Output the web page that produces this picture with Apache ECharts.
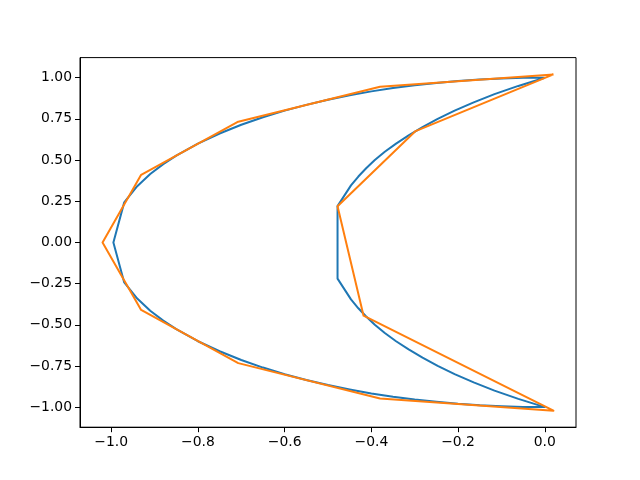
<!DOCTYPE html>
<html>
<head>
<meta charset="utf-8">
<script src="https://cdn.jsdelivr.net/npm/echarts@6/dist/echarts.min.js"></script>
<style>html,body{margin:0;padding:0;background:#fff}#c{width:640px;height:480px}</style>
</head>
<body>
<div id="c"></div>
<script>
// Blue curve (crescent outline): [x, y]
const blueOuterUpper = [
  [0.000, 1.000], [-0.050, 0.999], [-0.100, 0.995], [-0.150, 0.989], [-0.200, 0.980],
  [-0.250, 0.968], [-0.300, 0.954], [-0.350, 0.937], [-0.400, 0.917], [-0.450, 0.893],
  [-0.500, 0.866], [-0.550, 0.835], [-0.600, 0.800], [-0.650, 0.760], [-0.700, 0.714],
  [-0.750, 0.661], [-0.800, 0.600], [-0.850, 0.527], [-0.880, 0.475], [-0.910, 0.415],
  [-0.940, 0.341], [-0.970, 0.243], [-0.995, 0.000]
];
const blueOuterLower = [
  [-0.970, -0.243], [-0.940, -0.341], [-0.910, -0.415], [-0.880, -0.475], [-0.850, -0.527],
  [-0.800, -0.600], [-0.750, -0.661], [-0.700, -0.714], [-0.650, -0.760], [-0.600, -0.800],
  [-0.550, -0.835], [-0.500, -0.866], [-0.450, -0.893], [-0.400, -0.917], [-0.350, -0.937],
  [-0.300, -0.954], [-0.250, -0.968], [-0.200, -0.980], [-0.150, -0.989], [-0.100, -0.995],
  [-0.050, -0.999], [0.000, -1.000]
];
const blueInnerLower = [
  [-0.061, -0.950], [-0.116, -0.900], [-0.164, -0.850], [-0.208, -0.800], [-0.247, -0.750],
  [-0.282, -0.700], [-0.314, -0.650], [-0.343, -0.600], [-0.369, -0.550], [-0.392, -0.500],
  [-0.412, -0.450], [-0.430, -0.400], [-0.447, -0.346], [-0.478, -0.220]
];
const blueInnerUpper = [
  [-0.478, 0.220], [-0.447, 0.346], [-0.430, 0.400], [-0.412, 0.450], [-0.392, 0.500],
  [-0.369, 0.550], [-0.343, 0.600], [-0.314, 0.650], [-0.282, 0.700], [-0.247, 0.750],
  [-0.208, 0.800], [-0.164, 0.850], [-0.116, 0.900], [-0.061, 0.950], [0.000, 1.000]
];
// Orange polygon vertices
const orangePoints = [
  [0.020, 1.020], [-0.380, 0.945], [-0.707, 0.733], [-0.931, 0.410], [-1.020, 0.000],
  [-0.931, -0.410], [-0.707, -0.733], [-0.380, -0.948], [0.020, -1.022], [-0.418, -0.445],
  [-0.478, 0.220], [-0.298, 0.676], [0.020, 1.020]
];
const xTicks = [-1.0, -0.8, -0.6, -0.4, -0.2, 0.0];
const yTicks = [-1.0, -0.75, -0.5, -0.25, 0.0, 0.25, 0.5, 0.75, 1.0];

const bluePoints = blueOuterUpper.concat(blueOuterLower, blueInnerLower, blueInnerUpper);

const minus = s => s.replace('-', '\u2212');
const chart = echarts.init(document.getElementById('c'), null, {renderer: 'canvas'});
const font = {fontFamily: 'DejaVu Sans', fontSize: 13.9, color: '#000'};
chart.setOption({
  animation: false,
  backgroundColor: '#fff',
  grid: {left: 80, right: 64, top: 57.6, bottom: 52.8, show: true, borderColor: '#000', borderWidth: 1, backgroundColor: 'transparent'},
  xAxis: {
    type: 'value', min: -1.072, max: 0.072,
    axisLine: {show: true, onZero: false, lineStyle: {color: '#000', width: 1}},
    axisTick: {show: true, length: 5, lineStyle: {color: '#000', width: 1}, customValues: xTicks},
    axisLabel: Object.assign({margin: 8, customValues: xTicks, formatter: v => minus(v.toFixed(1))}, font),
    splitLine: {show: false}
  },
  yAxis: {
    type: 'value', min: -1.122, max: 1.122,
    axisLine: {show: true, onZero: false, lineStyle: {color: '#000', width: 1}},
    axisTick: {show: true, length: 5, lineStyle: {color: '#000', width: 1}, customValues: yTicks},
    axisLabel: Object.assign({margin: 8, customValues: yTicks, formatter: v => minus(v.toFixed(2))}, font),
    splitLine: {show: false}
  },
  series: [
    {type: 'line', data: bluePoints, showSymbol: false, symbol: 'none', color: '#1f77b4',
     lineStyle: {width: 2, color: '#1f77b4', join: 'round'}, z: 2},
    {type: 'line', data: orangePoints, showSymbol: false, symbol: 'none', color: '#ff7f0e',
     lineStyle: {width: 2, color: '#ff7f0e', join: 'round'}, z: 3}
  ]
});
</script>
</body>
</html>
